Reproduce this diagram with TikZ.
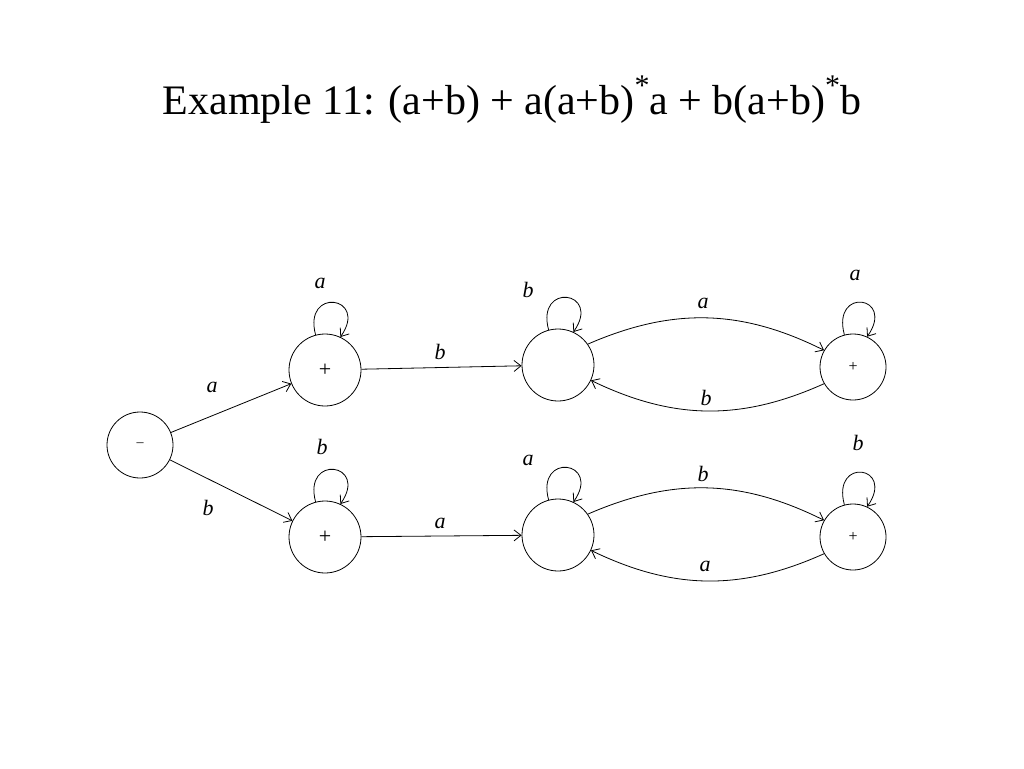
\documentclass[tikz,border=0pt]{standalone}
\usepackage{fontspec}
\setmainfont{Liberation Serif}
\usetikzlibrary{arrows.meta}
\begin{document}
\begin{tikzpicture}[x=1pt,y=-1pt,
  st/.style={circle,draw,line width=0.8pt,minimum size=#1,inner sep=0pt},
  lb/.style={font=\fontsize{22}{24}\selectfont\itshape},
  e/.style={-{Straight Barb[length=7pt,width=11pt]},line width=0.8pt}]
\useasboundingbox (0,0) rectangle (1024,768);
\node (title) at (512,100) {\fontsize{42}{48}\selectfont Example 11: (a+b) + a(a+b)\raisebox{0.45em}{\fontsize{30}{30}\selectfont *}a + b(a+b)\raisebox{0.45em}{\fontsize{30}{30}\selectfont *}b};
\node[st=66pt] (s) at (140,445) {\fontsize{14}{16}\selectfont --};
\node[st=72pt] (q1) at (325,370) {\fontsize{22}{24}\selectfont +};
\node[st=72pt] (q2) at (558,365) {};
\node[st=66pt] (q3) at (853,367) {\fontsize{16}{18}\selectfont +};
\node[st=72pt] (q4) at (325,537) {\fontsize{22}{24}\selectfont +};
\node[st=72pt] (q5) at (558,535) {};
\node[st=66pt] (q6) at (853,537) {\fontsize{16}{18}\selectfont +};
\draw[e] (s) -- (q1);
\draw[e] (s) -- (q4);
\draw[e] (q1) -- (q2);
\draw[e] (q4) -- (q5);
\draw[e] (q2.35) to[bend left=25] (q3.150);
\draw[e] (q3.210) to[bend left=25] (q2.-25);
\draw[e] (q5.35) to[bend left=25] (q6.150);
\draw[e] (q6.210) to[bend left=25] (q5.-25);
\foreach \n in {q1,q2,q3,q4,q5,q6}
  \draw[e] (\n.105) .. controls +(-105:50) and +(-55:50) .. (\n.65);
\node[lb] (l1) at (212,387) {a};
\node[lb] (l2) at (208,508) {b};
\node[lb] (l3) at (440,352) {b};
\node[lb] (l4) at (440,523) {a};
\node[lb] (l5) at (703,303) {a};
\node[lb] (l6) at (706,398) {b};
\node[lb] (l7) at (703,474) {b};
\node[lb] (l8) at (705,566) {a};
\node[lb] (l9) at (320,283) {a};
\node[lb] (l10) at (528,290) {b};
\node[lb] (l11) at (855,275) {a};
\node[lb] (l12) at (322,447) {b};
\node[lb] (l13) at (528,460) {a};
\node[lb] (l14) at (858,443) {b};
\end{tikzpicture}
\end{document}
